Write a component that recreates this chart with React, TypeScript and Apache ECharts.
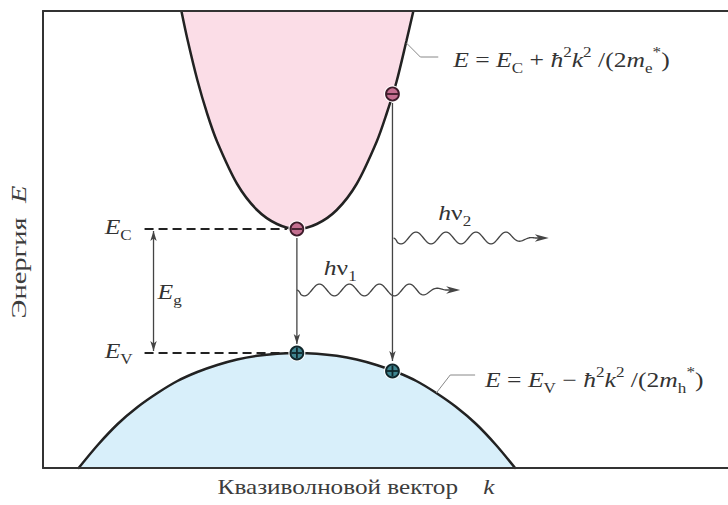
import React, { useEffect, useRef } from "react";
import * as echarts from "echarts";

const SERIF = "Liberation Serif";
const TXT = "#333";

// Conduction band E(k)
const cbK = [-1.16, -1.1, -1.0, -0.9, -0.8, -0.6, -0.4, -0.2, 0, 0.2, 0.4, 0.6, 0.8, 0.9, 1.0, 1.1, 1.17];
const cbE = [3.42, 3.14, 2.73, 2.39, 2.11, 1.69, 1.43, 1.29, 1.24, 1.29, 1.43, 1.69, 2.11, 2.39, 2.71, 3.12, 3.42];
// Valence band E(k)
const vbK = [-2.2, -2.0, -1.8, -1.6, -1.4, -1.2, -1.0, -0.8, -0.6, -0.4, -0.2, 0, 0.2, 0.4, 0.6, 0.8, 1.0, 1.2, 1.4, 1.6, 1.8, 2.0, 2.2];
const vbE = [-1.16, -0.92, -0.71, -0.54, -0.4, -0.28, -0.19, -0.12, -0.065, -0.028, -0.007, 0, -0.007, -0.028, -0.065, -0.12, -0.19, -0.28, -0.4, -0.54, -0.71, -0.92, -1.16];

const EC = 1.24;
const EV = 0;
const dashK = [-1.53, -0.1];

// particles
const electronK = [0, 0.96];
const electronE = [1.24, 2.59];
const holeK = [0, 0.96];
const holeE = [0, -0.18];

// arrows: k, E from, E to, head at start
const arrowK = [0, 0.96, -1.44];
const arrowFrom = [1.15, 2.5, 1.22];
const arrowTo = [0.09, -0.08, 0.02];
const arrowStartHead = [0, 0, 1];

// photons: start k, level E, tip k
const photonStartK = [0, 0.97];
const photonE = [0.63, 1.15];
const photonTipK = [1.64, 2.53];

// leader lines
const cbLeaderK = [1.1, 1.24, 1.42];
const cbLeaderE = [3.1, 2.96, 2.96];
const vbLeaderK = [1.4, 1.54, 1.79];
const vbLeaderE = [-0.4, -0.22, -0.22];

// labels (left edge k, centre E)
const labelK = [-1.93, -1.93, -1.4, 0.27, 1.42, 1.57, 1.89];
const labelE = [1.26, 0.02, 0.61, 0.85, 1.4, 2.93, -0.27];
const labelText = [
  "{i|E}{sub|C}",
  "{i|E}{sub|V}",
  "{i|E}{sub|g}",
  "{i|h}{n|ν}{sub|1}",
  "{i|h}{n|ν}{sub|2}",
  "{i|E}{n| = }{i|E}{sub|C}{n| + }{i|ħ}{sup|2}{i|k}{sup|2}{n| /(2}{i|m}{sub|e}{sup|*}{n|)}",
  "{i|E}{n| = }{i|E}{sub|V}{n| − }{i|ħ}{sup|2}{i|k}{sup|2}{n| /(2}{i|m}{sub|h}{sup|*}{n|)}",
];

const yTitle = "Энергия";
const xTitle = "Квазиволновой вектор";

const rich: any = {
  i: { fontFamily: SERIF, fontStyle: "italic", fontSize: 21, fill: TXT, lineHeight: 30, verticalAlign: "middle" },
  n: { fontFamily: SERIF, fontSize: 21, fill: TXT, lineHeight: 30, verticalAlign: "middle" },
  sub: { fontFamily: SERIF, fontSize: 14, fill: TXT, lineHeight: 15, verticalAlign: "bottom" },
  sup: { fontFamily: SERIF, fontSize: 14, fill: TXT, lineHeight: 15, verticalAlign: "top" },
};
const titleRich: any = {
  n: { fontFamily: SERIF, fontSize: 21, fill: "#3c3c3c" },
  i: { fontFamily: SERIF, fontStyle: "italic", fontSize: 21, fill: "#3c3c3c" },
};

export default function App() {
  const ref = useRef<HTMLDivElement>(null);
  useEffect(() => {
    if (!ref.current) return;
    document.body.style.margin = "0";
    const chart = echarts.init(ref.current, undefined, { renderer: "svg" });
    const pair = (a: number[], b: number[]) => a.map((v, i) => [v, b[i]]);
    const frameLine = { show: true, onZero: false, lineStyle: { color: "#333", width: 2 } };
    const axisCommon = {
      type: "value",
      axisTick: { show: false },
      axisLabel: { show: false },
      splitLine: { show: false },
      axisLine: frameLine,
      z: 10,
    };
    const option: any = {
      animation: false,
      grid: { left: 43, right: -3, top: 11, bottom: 37 },
      xAxis: [
        { ...axisCommon, min: -2.55, max: 4.33, position: "bottom" },
        { ...axisCommon, min: -2.55, max: 4.33, position: "top" },
      ],
      yAxis: [{ ...axisCommon, min: -1.15, max: 3.42 }],
      series: [
        {
          name: "conduction",
          type: "line",
          data: pair(cbK, cbE),
          smooth: 0.3,
          symbol: "none",
          lineStyle: { color: "#222", width: 2.5 },
          areaStyle: { color: "#fbdde7", opacity: 1, origin: "end" },
          z: 2,
        },
        {
          name: "valence",
          type: "line",
          data: pair(vbK, vbE),
          smooth: 0.3,
          symbol: "none",
          lineStyle: { color: "#222", width: 2.5 },
          areaStyle: { color: "#d8effa", opacity: 1, origin: "start" },
          z: 2,
        },
        {
          name: "Ec level",
          type: "line",
          data: dashK.map((k) => [k, EC]),
          symbol: "none",
          lineStyle: { color: "#222", width: 1.8, type: [9, 5] },
          z: 3,
        },
        {
          name: "Ev level",
          type: "line",
          data: dashK.map((k) => [k, EV]),
          symbol: "none",
          lineStyle: { color: "#222", width: 1.8, type: [9, 5] },
          z: 3,
        },
        {
          name: "cb leader",
          type: "line",
          data: pair(cbLeaderK, cbLeaderE),
          symbol: "none",
          lineStyle: { color: "#888", width: 1 },
          z: 3,
        },
        {
          name: "vb leader",
          type: "line",
          data: pair(vbLeaderK, vbLeaderE),
          symbol: "none",
          lineStyle: { color: "#888", width: 1 },
          z: 3,
        },
        {
          name: "arrows",
          type: "custom",
          z: 4,
          data: arrowK.map((k, i) => [k, arrowFrom[i], arrowTo[i], arrowStartHead[i]]),
          renderItem: (params: any, api: any) => {
            const a = api.coord([api.value(0), api.value(1)]);
            const b = api.coord([api.value(0), api.value(2)]);
            const col = "#444";
            const children: any[] = [
              { type: "line", shape: { x1: a[0], y1: a[1], x2: b[0], y2: b[1] }, style: { stroke: col, lineWidth: 1.3 } },
              {
                type: "polygon",
                shape: { points: [[b[0], b[1]], [b[0] - 3.2, b[1] - 10], [b[0], b[1] - 7.5], [b[0] + 3.2, b[1] - 10]] },
                style: { fill: col },
              },
            ];
            if (api.value(3) === 1) {
              children.push({
                type: "polygon",
                shape: { points: [[a[0], a[1]], [a[0] - 3.2, a[1] + 10], [a[0], a[1] + 7.5], [a[0] + 3.2, a[1] + 10]] },
                style: { fill: col },
              });
            }
            return { type: "group", children };
          },
        },
        {
          name: "photons",
          type: "custom",
          z: 4,
          data: photonStartK.map((k, i) => [k, photonE[i], photonTipK[i]]),
          renderItem: (params: any, api: any) => {
            const s = api.coord([api.value(0), api.value(1)]);
            const t = api.coord([api.value(2), api.value(1)]);
            const L = t[0] - s[0];
            const lam = 30;
            const amp = 6;
            const waveEnd = L - 26;
            const pts: number[][] = [];
            for (let x = 0; x <= L - 8; x += 1) {
              let a = amp;
              if (x < 4) a = amp * (x / 4);
              if (x > waveEnd - lam / 2) a = amp * Math.max(0, 1 - (x - (waveEnd - lam / 2)) / (lam * 0.9));
              pts.push([s[0] + x, s[1] + a * Math.sin((2 * Math.PI * x) / lam)]);
            }
            const col = "#444";
            return {
              type: "group",
              children: [
                { type: "polyline", shape: { points: pts }, style: { stroke: col, lineWidth: 1.3, fill: null } },
                {
                  type: "polygon",
                  shape: { points: [[t[0], t[1]], [t[0] - 14, t[1] - 3.8], [t[0] - 10, t[1]], [t[0] - 14, t[1] + 3.8]] },
                  style: { fill: col },
                },
              ],
            };
          },
        },
        {
          name: "particles",
          type: "custom",
          z: 5,
          data: [
            ...electronK.map((k, i) => [k, electronE[i], 0]),
            ...holeK.map((k, i) => [k, holeE[i], 1]),
          ],
          renderItem: (params: any, api: any) => {
            const p = api.coord([api.value(0), api.value(1)]);
            const hole = api.value(2) === 1;
            const dark = hole ? "#10262b" : "#3d1c2a";
            const children: any[] = [
              { type: "circle", shape: { cx: p[0], cy: p[1], r: 8.5 }, style: { fill: "#fff" } },
              {
                type: "circle",
                shape: { cx: p[0], cy: p[1], r: 6.5 },
                style: { fill: hole ? "#3f8590" : "#c46f90", stroke: dark, lineWidth: 1.8 },
              },
              { type: "line", shape: { x1: p[0] - 5.5, y1: p[1], x2: p[0] + 5.5, y2: p[1] }, style: { stroke: dark, lineWidth: 1.8 } },
            ];
            if (hole) {
              children.push({ type: "line", shape: { x1: p[0], y1: p[1] - 5.5, x2: p[0], y2: p[1] + 5.5 }, style: { stroke: dark, lineWidth: 1.8 } });
            }
            return { type: "group", children };
          },
        },
      ],
    };
    chart.setOption(option);

    const px = (k: number, e: number) => chart.convertToPixel({ gridIndex: 0 }, [k, e]) as number[];
    const labelGraphics = labelK.map((k, i) => {
      const p = px(k, labelE[i]);
      return {
        type: "text",
        x: p[0],
        y: p[1],
        scaleX: 1.22,
        z: 100,
        style: { text: labelText[i], rich, align: "left", verticalAlign: "middle" },
      };
    });
    chart.setOption({
      graphic: [
        ...labelGraphics,
        {
          type: "text",
          x: 19,
          y: 252,
          rotation: Math.PI / 2,
          scaleX: 1.36,
          style: { text: "{n|" + yTitle + "}{n|  }{i|E}", rich: titleRich, align: "center", verticalAlign: "middle" },
        },
        {
          type: "text",
          x: 356,
          y: 487,
          scaleX: 1.2,
          style: { text: "{n|" + xTitle + "}{n|    }{i|k}", rich: titleRich, align: "center", verticalAlign: "middle" },
        },
      ],
    });
    return () => chart.dispose();
  }, []);
  return <div ref={ref} style={{ width: 728, height: 505 }} />;
}
